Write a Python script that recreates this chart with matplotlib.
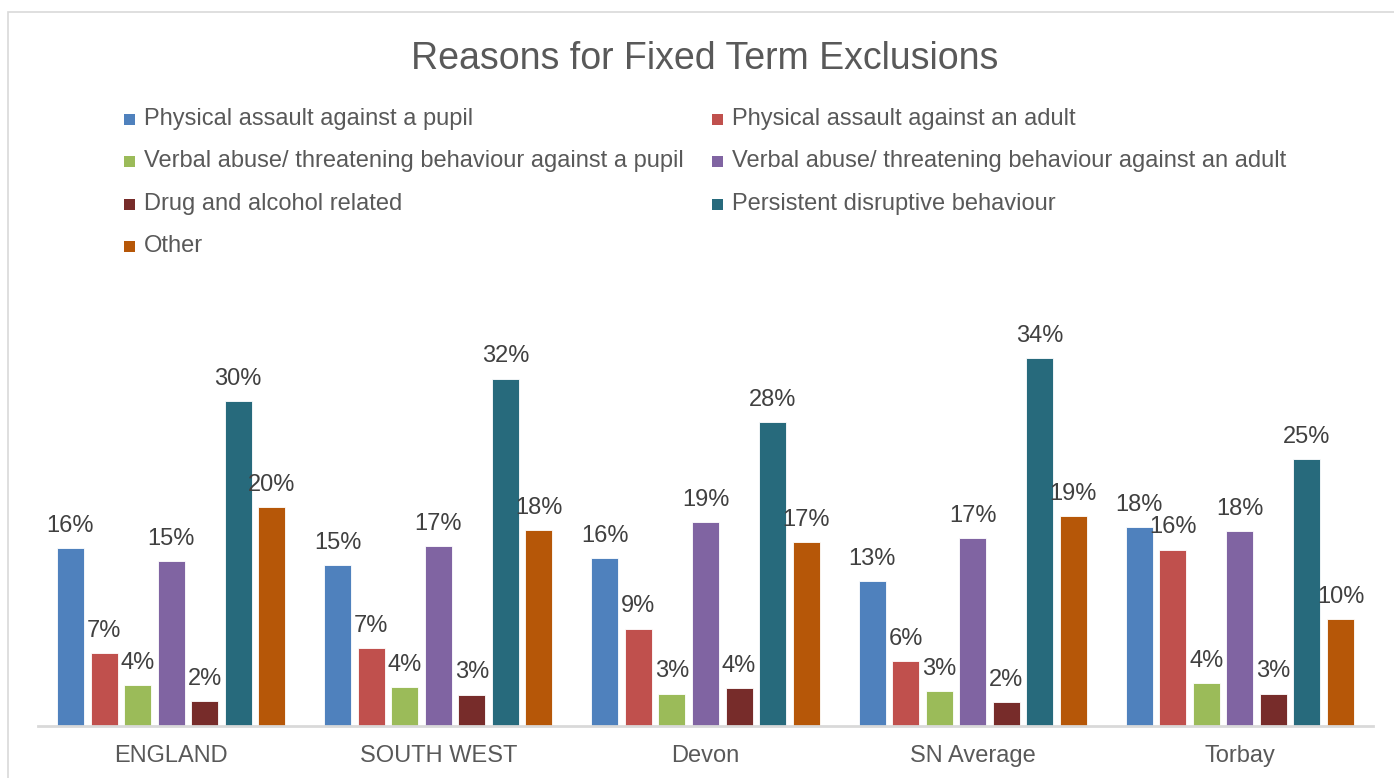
import numpy as np
import matplotlib
matplotlib.use("Agg")
import matplotlib.pyplot as plt
from matplotlib.patches import Rectangle

plt.rcParams['font.family'] = ['Liberation Sans', 'DejaVu Sans']

# data (percent)
regions = ['ENGLAND', 'SOUTH WEST', 'Devon', 'SN Average', 'Torbay']
series = [
    'Physical assault against a pupil',
    'Physical assault against an adult',
    'Verbal abuse/ threatening behaviour against a pupil',
    'Verbal abuse/ threatening behaviour against an adult',
    'Drug and alcohol related',
    'Persistent disruptive behaviour',
    'Other',
]
assault_pupil = [16.4, 14.9, 15.5, 13.4, 18.4]
assault_adult = [6.7, 7.2, 9.0, 6.0, 16.3]
verbal_pupil = [3.8, 3.6, 3.0, 3.2, 4.0]
verbal_adult = [15.2, 16.6, 18.8, 17.4, 18.0]
drug_alcohol = [2.3, 2.9, 3.5, 2.2, 3.0]
persistent = [30.0, 32.1, 28.1, 34.0, 24.7]
other = [20.2, 18.1, 17.0, 19.4, 9.9]

values = [assault_pupil, assault_adult, verbal_pupil, verbal_adult,
          drug_alcohol, persistent, other]
colors = ['#4F81BD', '#C0504D', '#9BBB59', '#8064A2',
          '#772C2A', '#276A7C', '#B65708']

W, H = 1394, 778
fig = plt.figure(figsize=(W / 100, H / 100), dpi=100)

# chart border
fig.patches.append(Rectangle((8 / W, -0.01), 1.0, (H - 12) / H + 0.01,
                             transform=fig.transFigure, fill=False,
                             edgecolor='#D9D9D9', linewidth=1.2))

ax = fig.add_axes([37.5 / W, 52 / H, 1336 / W, 433 / H])
x = np.arange(len(regions))
pitch = 0.1255
width = 0.101
n = len(series)
for i, (vals, c) in enumerate(zip(values, colors)):
    pos = x + (i - (n - 1) / 2) * pitch
    bars = ax.bar(pos, vals, width=width, color=c, edgecolor='white',
                  linewidth=0.6)
    for b, v in zip(bars, vals):
        ax.annotate(f'{v:.0f}%', (b.get_x() + b.get_width() / 2, v),
                    xytext=(0, 8), textcoords='offset points',
                    ha='center', va='bottom', fontsize=17, color='#404040')

ax.set_xlim(-0.5, len(regions) - 0.5)
ax.set_ylim(0, 40)
ax.set_yticks([])
ax.set_xticks(x)
ax.set_xticklabels(regions, fontsize=17, color='#595959')
ax.tick_params(axis='x', length=0, pad=14)
for s in ['top', 'right', 'left']:
    ax.spines[s].set_visible(False)
ax.spines['bottom'].set_color('#D9D9D9')
ax.spines['bottom'].set_linewidth(2)
ax.patch.set_visible(False)

fig.text(705 / W, 1 - 59 / H, 'Reasons for Fixed Term Exclusions',
         ha='center', va='center', fontsize=27, color='#595959')

# legend, filled row by row in two columns
col_x = [124, 712]
for i, (name, c) in enumerate(zip(series, colors)):
    row, col = divmod(i, 2)
    yc = 119 + row * 42.5
    fig.patches.append(Rectangle((col_x[col] / W, 1 - (yc + 5.5) / H),
                                 11 / W, 11 / H, transform=fig.transFigure,
                                 facecolor=c, edgecolor='none'))
    fig.text((col_x[col] + 20) / W, 1 - yc / H, name, ha='left',
             va='center', fontsize=17, color='#595959')

fig.savefig('out.png', dpi=100)
